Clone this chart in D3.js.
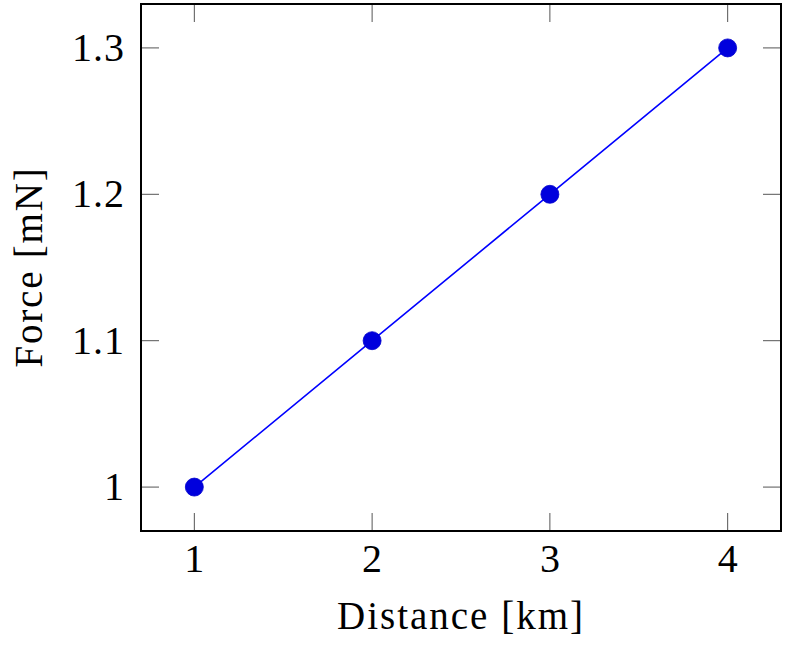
<!DOCTYPE html>
<html><head><meta charset="utf-8">
<script src="https://cdn.jsdelivr.net/npm/d3@7"></script>
<style>body{margin:0;background:#fff}text{font-family:"Liberation Serif","DejaVu Serif",serif;fill:#000}</style>
</head><body>
<svg id="c" width="787" height="647"></svg>
<script>
const xValues = [1, 2, 3, 4];
const yValues = [1.0, 1.1, 1.2, 1.3];
const xTicks = [1, 2, 3, 4];
const yTicks = [1.0, 1.1, 1.2, 1.3];
const xLabel = "Distance [km]";
const yLabel = "Force [mN]";

const svg = d3.select("#c");
const L = 141, R = 781, T = 4, B = 531;
const x = d3.scaleLinear().domain([0.7, 4.3]).range([L, R]);
const y = d3.scaleLinear().domain([0.97, 1.33]).range([B, T]);
const tl = 18;
const g = svg.append("g");
const fmt = d => Number.isInteger(d) ? String(d) : d3.format(".1f")(d);

const tc = "#555";
xTicks.forEach(t => {
  g.append("line").attr("x1", x(t)).attr("x2", x(t)).attr("y1", B).attr("y2", B - tl).attr("stroke", tc).attr("stroke-width", 1);
  g.append("line").attr("x1", x(t)).attr("x2", x(t)).attr("y1", T).attr("y2", T + tl).attr("stroke", tc).attr("stroke-width", 1);
  g.append("text").attr("x", x(t)).attr("y", 572).attr("text-anchor", "middle").attr("font-size", 40).text(fmt(t));
});
yTicks.forEach(t => {
  g.append("line").attr("x1", L).attr("x2", L + tl).attr("y1", y(t)).attr("y2", y(t)).attr("stroke", tc).attr("stroke-width", 1);
  g.append("line").attr("x1", R).attr("x2", R - tl).attr("y1", y(t)).attr("y2", y(t)).attr("stroke", tc).attr("stroke-width", 1);
  g.append("text").attr("x", 125).attr("y", y(t) + 13).attr("text-anchor", "end").attr("font-size", 40).attr("letter-spacing", 1).text(fmt(t));
});

const data = xValues.map((v, i) => [v, yValues[i]]);
g.append("path").datum(data).attr("fill", "none").attr("stroke", "#0000ff").attr("stroke-width", 1.6)
  .attr("d", d3.line().x(d => x(d[0])).y(d => y(d[1])));
g.selectAll("circle.m").data(data).enter().append("circle")
  .attr("cx", d => x(d[0])).attr("cy", d => y(d[1])).attr("r", 9)
  .attr("fill", "#0000dd").attr("stroke", "#0000cc").attr("stroke-width", 0.8);

g.append("rect").attr("x", L).attr("y", T).attr("width", R - L).attr("height", B - T)
  .attr("fill", "none").attr("stroke", "#000").attr("stroke-width", 2);

g.append("text").attr("x", (L + R) / 2).attr("y", 629).attr("text-anchor", "middle").attr("font-size", 39).attr("letter-spacing", 2).text(xLabel);
g.append("text").attr("transform", `translate(42,267) rotate(-90)`).attr("text-anchor", "middle").attr("font-size", 39).attr("letter-spacing", 1.8).text(yLabel);
</script>
</body></html>
